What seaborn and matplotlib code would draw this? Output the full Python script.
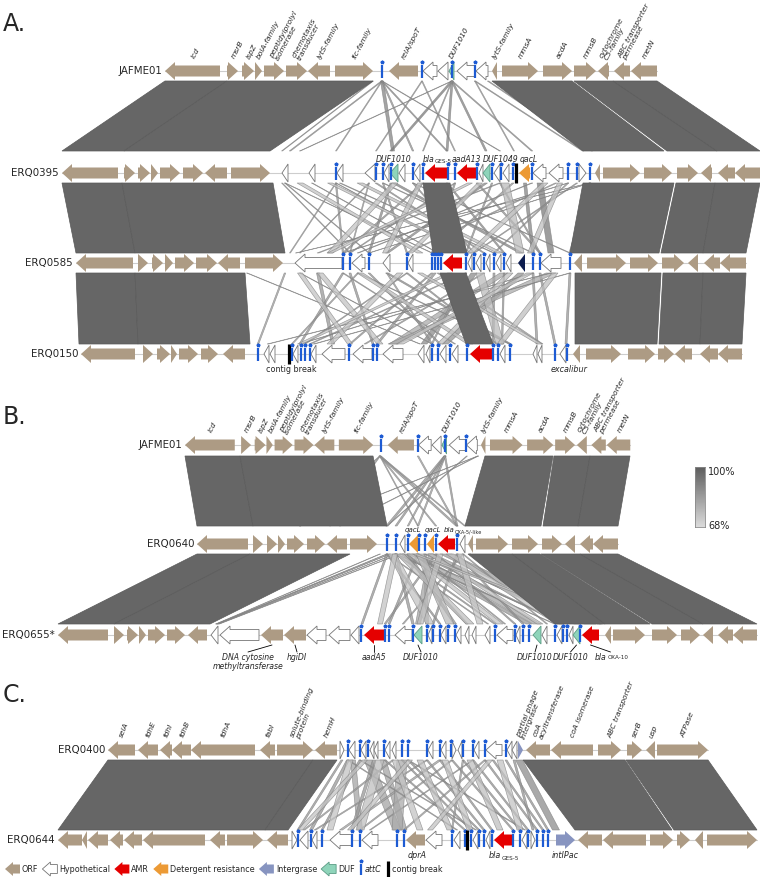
import numpy as np
import matplotlib
matplotlib.use("Agg")
import matplotlib.pyplot as plt
from matplotlib.patches import Polygon
import seaborn as sns

sns.set_theme(style="white")
plt.rcParams['font.family'] = ['DejaVu Sans']

# ----------------------------------------------------------------- data
# genes: (start, end, strand, kind, label) in map units
JAFME01 = [
    (165, 220, -1, 'orf', 'icd'), (227, 238, 1, 'orf', 'msrB'), (242, 254, 1, 'orf', 'ispZ'),
    (255, 262, 1, 'orf', 'bolA-family'), (264, 284, 1, 'orf', 'peptidylprolyl\nisomerase'),
    (286, 307, 1, 'orf', 'chemotaxis\ntransducer'), (308, 330, -1, 'orf', 'lytS-family'),
    (335, 373, 1, 'orf', 'fic-family'), (382, 382, 0, 'attc', ''), (389, 418, -1, 'orf', 'relA/spoT'),
    (422, 422, 0, 'attc', ''), (423, 437, -1, 'hyp', ''), (438, 448, -1, 'hyp', ''),
    (449, 454, -1, 'duf', 'DUF1010'), (452, 452, 0, 'attc', ''), (457, 475, -1, 'hyp', ''),
    (475, 475, 0, 'attc', ''), (476, 488, -1, 'hyp', ''), (492, 497, -1, 'orf', 'lytS-family'),
    (502, 538, 1, 'orf', 'mmsA'), (543, 572, 1, 'orf', 'acdA'), (574, 596, 1, 'orf', 'mmsB'),
    (598, 609, -1, 'orf', 'cytochrome\nC5-family'), (614, 630, -1, 'orf', 'ABC transporter\npermease'),
    (631, 657, -1, 'orf', 'metN'),
]

ERQ0395 = [
    (62, 118, -1, 'orf', ''), (124, 135, 1, 'orf', ''), (138, 150, 1, 'orf', ''), (151, 158, 1, 'orf', ''),
    (160, 180, 1, 'orf', ''), (183, 203, 1, 'orf', ''), (205, 227, -1, 'orf', ''), (231, 270, 1, 'orf', ''),
    (282, 288, -1, 'hyp', ''), (309, 315, -1, 'hyp', ''), (336, 336, 0, 'attc', ''), (337, 343, -1, 'hyp', ''),
    (365, 375, -1, 'hyp', ''), (376, 376, 0, 'attc', ''), (383, 383, 0, 'attc', ''), (384, 389, -1, 'hyp', ''),
    (390, 398, -1, 'duf', 'DUF1010'), (391, 391, 0, 'attc', ''), (399, 405, -1, 'hyp', ''),
    (413, 413, 0, 'attc', ''), (414, 420, -1, 'hyp', ''), (423, 423, 0, 'attc', ''),
    (425, 447, -1, 'amr', 'bla_GES-5'), (448, 448, 0, 'attc', ''), (455, 455, 0, 'attc', ''),
    (457, 476, -1, 'amr', 'aadA13'), (477, 477, 0, 'attc', ''), (479, 483, -1, 'hyp', ''),
    (483, 490, -1, 'duf', 'DUF1049'), (492, 492, 0, 'attc', ''), (494, 500, -1, 'hyp', ''),
    (501, 501, 0, 'attc', ''), (503, 509, -1, 'hyp', ''), (513, 513, 0, 'attc', ''), (516, 516, 0, 'brk', ''),
    (519, 530, -1, 'det', 'qacL'), (532, 532, 0, 'attc', ''), (533, 546, -1, 'hyp', ''),
    (549, 563, -1, 'hyp', ''), (568, 568, 0, 'attc', ''), (577, 577, 0, 'attc', ''), (579, 586, 1, 'hyp', ''),
    (590, 590, 0, 'attc', ''), (595, 600, -1, 'orf', ''), (603, 640, 1, 'orf', ''), (644, 672, 1, 'orf', ''),
    (677, 698, 1, 'orf', ''), (701, 712, -1, 'orf', ''), (718, 735, -1, 'orf', ''), (735, 760, -1, 'orf', ''),
]

ERQ0585 = [
    (76, 133, -1, 'orf', ''), (138, 148, 1, 'orf', ''), (152, 163, 1, 'orf', ''), (165, 173, 1, 'orf', ''),
    (175, 194, 1, 'orf', ''), (196, 217, 1, 'orf', ''), (218, 240, -1, 'orf', ''), (245, 283, 1, 'orf', ''),
    (295, 342, -1, 'hyp', ''), (343, 343, 0, 'attc', ''), (350, 350, 0, 'attc', ''), (352, 365, -1, 'hyp', ''),
    (369, 369, 0, 'attc', ''), (383, 390, -1, 'hyp', ''), (407, 407, 0, 'attc', ''), (408, 413, -1, 'hyp', ''),
    (432, 432, 0, 'attc', ''), (435, 435, 0, 'attc', ''), (438, 438, 0, 'attc', ''), (441, 441, 0, 'attc', ''),
    (443, 462, -1, 'amr', ''), (466, 466, 0, 'attc', ''), (468, 472, -1, 'hyp', ''), (474, 474, 0, 'attc', ''),
    (476, 481, -1, 'hyp', ''), (484, 484, 0, 'attc', ''), (486, 490, -1, 'hyp', ''), (494, 494, 0, 'attc', ''),
    (496, 501, -1, 'hyp', ''), (504, 504, 0, 'attc', ''), (506, 511, -1, 'hyp', ''), (518, 525, -1, 'navy', ''),
    (533, 533, 0, 'attc', ''), (540, 540, 0, 'attc', ''), (541, 561, -1, 'hyp', ''), (570, 570, 0, 'attc', ''),
    (574, 582, -1, 'orf', ''), (587, 626, 1, 'orf', ''), (630, 658, 1, 'orf', ''), (662, 684, 1, 'orf', ''),
    (688, 698, -1, 'orf', ''), (704, 720, -1, 'orf', ''), (720, 746, -1, 'orf', ''),
]

ERQ0150 = [
    (81, 135, -1, 'orf', ''), (143, 153, 1, 'orf', ''), (157, 170, 1, 'orf', ''), (171, 177, 1, 'orf', ''),
    (179, 198, 1, 'orf', ''), (201, 218, 1, 'orf', ''), (223, 245, -1, 'orf', ''),
    (258, 258, 0, 'attc', ''), (264, 269, -1, 'hyp', ''), (270, 275, -1, 'hyp', ''),
    (289, 289, 0, 'brk', 'contig break'), (292, 292, 0, 'attc', ''), (293, 298, -1, 'hyp', ''),
    (301, 301, 0, 'attc', ''), (305, 305, 0, 'attc', ''), (310, 310, 0, 'attc', ''), (311, 316, -1, 'hyp', ''),
    (322, 345, -1, 'hyp', ''), (349, 349, 0, 'attc', ''), (353, 372, -1, 'hyp', ''), (373, 373, 0, 'attc', ''),
    (377, 377, 0, 'attc', ''), (383, 403, -1, 'hyp', ''), (418, 424, -1, 'hyp', ''), (426, 430, -1, 'hyp', ''),
    (432, 432, 0, 'attc', ''), (438, 438, 0, 'attc', ''), (440, 446, -1, 'hyp', ''), (450, 450, 0, 'attc', ''),
    (452, 458, -1, 'hyp', ''), (467, 467, 0, 'attc', ''), (470, 492, -1, 'amr', ''), (493, 493, 0, 'attc', ''),
    (498, 498, 0, 'attc', ''), (500, 505, -1, 'hyp', ''), (510, 510, 0, 'attc', ''), (533, 537, -1, 'hyp', ''),
    (538, 542, -1, 'hyp', ''), (555, 555, 0, 'attc', ''), (560, 566, -1, 'hyp', 'excalibur'),
    (567, 567, 0, 'attc', ''), (573, 580, -1, 'orf', ''), (586, 621, 1, 'orf', ''), (628, 655, 1, 'orf', ''),
    (658, 674, 1, 'orf', ''), (675, 692, -1, 'orf', ''), (700, 718, -1, 'orf', ''), (718, 742, -1, 'orf', ''),
]

ERQ0640 = [
    (197, 248, -1, 'orf', ''), (253, 263, 1, 'orf', ''), (267, 277, 1, 'orf', ''), (278, 285, 1, 'orf', ''),
    (287, 304, 1, 'orf', ''), (307, 325, 1, 'orf', ''), (327, 347, -1, 'orf', ''), (350, 377, 1, 'orf', ''),
    (387, 387, 0, 'attc', ''), (396, 396, 0, 'attc', ''), (400, 405, -1, 'hyp', ''), (408, 408, 0, 'attc', ''),
    (409, 418, -1, 'det', 'qacL'), (419, 419, 0, 'attc', ''), (425, 425, 0, 'attc', ''),
    (427, 434, -1, 'det', 'qacL'), (436, 436, 0, 'attc', ''), (438, 455, -1, 'amr', 'bla_OXA-5/-like'),
    (457, 457, 0, 'attc', ''), (460, 465, -1, 'hyp', ''), (468, 473, -1, 'orf', ''), (476, 508, 1, 'orf', ''),
    (512, 538, 1, 'orf', ''), (542, 562, 1, 'orf', ''), (565, 575, -1, 'orf', ''), (580, 593, -1, 'orf', ''),
    (593, 618, -1, 'orf', ''),
]

ERQ0655 = [
    (58, 108, -1, 'orf', ''), (114, 124, 1, 'orf', ''), (127, 138, 1, 'orf', ''), (139, 146, 1, 'orf', ''),
    (148, 165, 1, 'orf', ''), (167, 185, 1, 'orf', ''), (188, 207, -1, 'orf', ''),
    (211, 218, -1, 'hyp', ''), (220, 259, -1, 'hyp', ''),
    (261, 283, -1, 'orf', 'DNA cytosine\nmethyltransferase'), (284, 306, -1, 'orf', 'hgiDI'),
    (307, 326, -1, 'hyp', ''), (329, 350, -1, 'hyp', ''), (351, 359, -1, 'hyp', ''), (361, 361, 0, 'attc', ''),
    (364, 384, -1, 'amr', 'aadA5'), (385, 385, 0, 'attc', ''), (389, 389, 0, 'attc', ''),
    (395, 412, -1, 'hyp', ''), (413, 413, 0, 'attc', ''), (414, 422, -1, 'duf', 'DUF1010'),
    (427, 427, 0, 'attc', ''), (428, 432, -1, 'hyp', ''), (433, 433, 0, 'attc', ''), (440, 440, 0, 'attc', ''),
    (441, 446, -1, 'hyp', ''), (448, 448, 0, 'attc', ''), (455, 455, 0, 'attc', ''), (456, 461, -1, 'hyp', ''),
    (465, 469, -1, 'hyp', ''), (472, 476, -1, 'hyp', ''), (485, 490, -1, 'hyp', ''), (495, 495, 0, 'attc', ''),
    (497, 513, -1, 'hyp', ''), (515, 515, 0, 'attc', ''), (516, 520, -1, 'hyp', ''), (523, 523, 0, 'attc', ''),
    (529, 529, 0, 'attc', ''), (533, 541, -1, 'duf', 'DUF1010'), (542, 547, -1, 'hyp', ''),
    (555, 555, 0, 'attc', ''), (557, 562, -1, 'hyp', ''), (563, 563, 0, 'attc', ''), (567, 567, 0, 'attc', ''),
    (569, 573, -1, 'hyp', ''), (573, 580, -1, 'duf', 'DUF1010'), (580, 580, 0, 'attc', ''),
    (582, 599, -1, 'amr', 'bla_OXA-10'), (605, 611, -1, 'orf', ''), (613, 645, 1, 'orf', ''),
    (652, 677, 1, 'orf', ''), (681, 700, 1, 'orf', ''), (703, 713, -1, 'orf', ''), (718, 733, -1, 'orf', ''),
    (733, 757, -1, 'orf', ''),
]

ERQ0400 = [
    (108, 135, -1, 'orf', 'selA'), (138, 158, -1, 'orf', 'fdhE'), (160, 172, -1, 'orf', 'fdhI'),
    (172, 191, -1, 'orf', 'fdhB'), (191, 255, -1, 'orf', 'fdhA'), (260, 275, -1, 'orf', 'fabI'),
    (277, 313, 1, 'orf', 'solute-binding\nprotein'), (315, 337, -1, 'orf', 'hemH'),
    (340, 344, 1, 'hyp', ''), (348, 348, 0, 'attc', ''), (349, 355, -1, 'hyp', ''), (360, 360, 0, 'attc', ''),
    (361, 366, -1, 'hyp', ''), (368, 368, 0, 'attc', ''), (370, 374, -1, 'hyp', ''), (374, 378, -1, 'hyp', ''),
    (384, 384, 0, 'attc', ''), (385, 390, -1, 'hyp', ''), (392, 396, -1, 'hyp', ''), (402, 402, 0, 'attc', ''),
    (408, 408, 0, 'attc', ''), (427, 427, 0, 'attc', ''), (428, 433, -1, 'hyp', ''), (440, 440, 0, 'attc', ''),
    (441, 446, -1, 'hyp', ''), (451, 451, 0, 'attc', ''), (452, 456, 1, 'hyp', ''), (458, 462, -1, 'hyp', ''),
    (463, 463, 0, 'attc', ''), (473, 473, 0, 'attc', ''), (474, 479, -1, 'hyp', ''), (485, 485, 0, 'attc', ''),
    (486, 502, -1, 'hyp', ''), (506, 506, 0, 'attc', ''), (507, 512, -1, 'hyp', ''), (512, 517, -1, 'hyp', ''),
    (518, 523, 1, 'int', 'partial phage\nintergrase'), (526, 550, -1, 'orf', 'coA\nacyltransferase'),
    (551, 593, -1, 'orf', 'coA isomerase'), (598, 621, 1, 'orf', 'ABC transporter'),
    (627, 642, 1, 'orf', 'serB'), (646, 655, -1, 'orf', 'usp'), (657, 708, 1, 'orf', 'ATPase'),
]

ERQ0644 = [
    (58, 82, -1, 'orf', ''), (82, 87, -1, 'orf', ''), (88, 108, -1, 'orf', ''), (110, 123, -1, 'orf', ''),
    (124, 142, -1, 'orf', ''), (143, 205, -1, 'orf', ''), (210, 225, -1, 'orf', ''), (227, 263, 1, 'orf', ''),
    (267, 288, -1, 'orf', ''), (292, 297, 1, 'hyp', ''), (298, 298, 0, 'attc', ''), (300, 308, -1, 'hyp', ''),
    (311, 311, 0, 'attc', ''), (312, 317, -1, 'hyp', ''), (322, 322, 0, 'attc', ''), (330, 352, -1, 'hyp', ''),
    (352, 352, 0, 'attc', ''), (360, 360, 0, 'attc', ''), (362, 378, -1, 'hyp', ''), (397, 397, 0, 'attc', ''),
    (404, 404, 0, 'attc', ''), (406, 425, -1, 'orf', 'dprA'), (426, 442, -1, 'hyp', ''),
    (452, 452, 0, 'attc', ''), (454, 460, -1, 'hyp', ''), (465, 465, 0, 'attc', ''), (467, 467, 0, 'brk', ''),
    (471, 471, 0, 'attc', ''), (473, 478, -1, 'hyp', ''), (479, 479, 0, 'attc', ''), (484, 484, 0, 'attc', ''),
    (486, 490, -1, 'hyp', ''), (492, 492, 0, 'attc', ''), (494, 512, -1, 'amr', 'bla_GES-5'),
    (513, 513, 0, 'attc', ''), (520, 520, 0, 'attc', ''), (522, 527, -1, 'hyp', ''), (528, 528, 0, 'attc', ''),
    (531, 535, 1, 'hyp', ''), (537, 537, 0, 'attc', ''), (543, 543, 0, 'attc', ''), (548, 548, 0, 'attc', ''),
    (556, 575, 1, 'int', 'intIPac'), (578, 602, -1, 'orf', ''), (603, 646, -1, 'orf', ''),
    (650, 673, 1, 'orf', ''), (677, 690, 1, 'orf', ''), (695, 703, -1, 'orf', ''), (707, 757, 1, 'orf', ''),
]

# syntenic blocks (~100 % identity): (top_start, top_end, bottom_start, bottom_end)
BLOCKS_A1 = [(165, 227, 62, 124), (227, 373, 124, 270), (492, 572, 583, 664), (574, 613, 667, 717), (613, 657, 717, 760)]
BLOCKS_A2 = [(62, 122, 76, 135), (122, 273, 135, 285), (423, 450, 433, 467),
             (583, 674, 570, 659), (676, 715, 661, 703), (715, 760, 703, 746)]
BLOCKS_A3 = [(76, 135, 79, 138), (135, 245, 138, 250), (440, 466, 466, 493),
             (575, 661, 575, 657), (663, 703, 659, 700), (703, 746, 700, 742)]
BLOCKS_B1 = [(185, 240, 197, 253), (240, 373, 253, 387), (485, 553, 465, 541), (554, 590, 543, 578), (590, 630, 578, 618)]
BLOCKS_B2 = [(197, 250, 58, 114), (250, 350, 114, 210), (468, 512, 555, 605), (512, 540, 605, 650),
             (541, 580, 652, 703), (580, 618, 703, 757)]
BLOCKS_C = [(108, 313, 58, 265), (313, 337, 265, 288), (523, 625, 575, 672), (626, 708, 674, 757)]

# shorter BLAST hits: (top_pos, bottom_pos, width, identity %)
LINKS_A1 = [(382, 290, 1.5, 85), (382, 336, 1, 80), (382, 393, 3, 90), (382, 413, 1.5, 85), (382, 447, 1.5, 88),
            (382, 500, 1, 80), (422, 376, 1, 80), (422, 455, 1, 80), (452, 300, 1, 78), (452, 391, 2.5, 92),
            (452, 447, 2, 90), (452, 486, 2, 90), (452, 532, 1.5, 85), (452, 423, 1, 82), (475, 583, 1.5, 85),
            (488, 592, 1.5, 85), (475, 514, 1, 80), (373, 282, 1, 80)]
LINKS_A2 = [(285, 369, 1, 80), (285, 432, 1, 78), (312, 438, 1, 80), (336, 343, 1.5, 85), (336, 466, 1, 80),
            (340, 494, 1.5, 82), (369, 350, 1, 80), (376, 484, 2, 85), (383, 407, 1.5, 85), (391, 369, 2, 88),
            (394, 521, 4, 90), (413, 474, 1.5, 85), (423, 343, 2, 85), (447, 504, 2, 88), (455, 432, 1.5, 85),
            (455, 350, 1.5, 82), (477, 540, 2, 85), (486, 387, 3, 88), (492, 466, 1.5, 85), (500, 318, 2, 80),
            (513, 435, 2, 82), (525, 533, 3, 90), (532, 358, 1.5, 80), (540, 551, 6, 92), (556, 407, 2, 80),
            (568, 343, 1.5, 80), (577, 474, 1.5, 82), (590, 570, 2, 85), (590, 296, 1, 78), (590, 369, 1, 78),
            (568, 494, 1.5, 82), (500, 540, 1.5, 85), (413, 570, 1.5, 80), (383, 533, 1.5, 80), (369, 300, 1, 80),
            (336, 290, 1, 78), (282, 350, 1, 80),
            (300, 420, 6, 74), (330, 470, 5, 74), (360, 500, 6, 75), (395, 330, 6, 74), (420, 385, 5, 75),
            (470, 330, 5, 74), (505, 520, 8, 76), (545, 470, 6, 74), (560, 530, 5, 75), (480, 410, 5, 74)]
LINKS_A3 = [(285, 258, 1.5, 82), (247, 420, 1, 78), (300, 432, 1, 78), (318, 333, 3, 85), (343, 300, 2, 85),
            (343, 455, 1.5, 82), (350, 373, 2, 85), (358, 292, 1.5, 82), (369, 440, 2, 85), (387, 510, 3, 88),
            (407, 305, 1.5, 82), (407, 497, 2, 85), (432, 350, 2, 85), (435, 377, 2.5, 85), (438, 542, 2, 82),
            (466, 310, 2, 82), (474, 424, 6, 88), (484, 365, 2, 82), (494, 493, 2, 85), (504, 393, 8, 80),
            (521, 445, 6, 86), (533, 537, 2, 85), (540, 555, 2, 85), (551, 393, 10, 80), (570, 566, 2, 85),
            (570, 314, 1.5, 80), (551, 268, 1.5, 78), (533, 300, 1.5, 78), (504, 502, 1.5, 85), (466, 432, 1.5, 82),
            (387, 432, 1.5, 82), (358, 510, 1.5, 80),
            (320, 380, 6, 74), (360, 470, 6, 75), (400, 330, 6, 74), (450, 300, 5, 74), (480, 500, 8, 76),
            (510, 440, 6, 75), (530, 400, 7, 74), (555, 500, 6, 75), (300, 350, 5, 74), (420, 540, 5, 74)]
LINKS_B1 = [(380, 457, 2.5, 85), (380, 465, 1.5, 82), (380, 436, 1.5, 82), (380, 418, 1, 80), (418, 457, 1.5, 82),
            (445, 387, 2.5, 85), (445, 396, 2, 85), (445, 418, 1.5, 82), (445, 457, 1.5, 85), (445, 408, 1.5, 82),
            (467, 387, 1, 80), (478, 340, 1, 78), (478, 300, 1, 78), (380, 300, 1, 78), (380, 330, 1, 78)]
LINKS_B2 = [(380, 216, 1, 78), (387, 217, 1, 78), (390, 217, 1, 78), (395, 218, 1, 78), (400, 219, 1, 78),
            (387, 362, 2, 85), (387, 440, 2, 85), (396, 495, 2, 85), (396, 413, 2.5, 85), (403, 529, 6, 85),
            (408, 455, 3, 85), (413, 537, 8, 82), (418, 389, 2, 85), (418, 563, 3, 85), (425, 427, 3, 85),
            (425, 580, 2, 85), (431, 577, 6, 82), (431, 418, 5, 82), (436, 515, 2, 85), (436, 385, 2, 85),
            (446, 590, 12, 84), (457, 523, 2, 85), (457, 433, 2, 85), (463, 547, 1.5, 82), (463, 403, 1.5, 82),
            (408, 567, 1.5, 82), (403, 467, 2, 82), (418, 505, 1.5, 82), (396, 555, 1.5, 82), (387, 488, 1.5, 82),
            (470, 560, 1, 80), (470, 600, 1, 80),
            (392, 430, 8, 74), (400, 470, 8, 75), (410, 500, 6, 74), (420, 450, 8, 76), (430, 540, 6, 74),
            (440, 420, 6, 75), (450, 560, 8, 74), (460, 480, 6, 74), (415, 600, 5, 74), (395, 380, 5, 74)]
LINKS_C = [(342, 298, 2, 85), (348, 311, 3, 85), (353, 360, 5, 82), (360, 322, 2, 85), (368, 397, 8, 82),
           (374, 352, 3, 85), (383, 404, 6, 82), (385, 465, 2, 85), (393, 304, 2, 82), (402, 471, 2, 85),
           (408, 479, 2, 85), (427, 315, 2, 82), (427, 484, 2, 85), (440, 492, 2, 85), (452, 513, 2, 85),
           (463, 520, 2, 85), (473, 528, 2, 85), (485, 537, 2, 85), (493, 543, 2, 85), (506, 548, 2, 85),
           (514, 533, 2, 85), (440, 341, 3, 82), (452, 360, 2, 82), (463, 452, 1.5, 82), (473, 370, 1.5, 82),
           (485, 404, 2, 82), (402, 397, 10, 80), (360, 476, 1.5, 82), (348, 457, 1.5, 82), (408, 525, 1.5, 82),
           (519, 556, 7, 88),
           (350, 330, 6, 74), (365, 300, 5, 74), (380, 360, 8, 75), (395, 420, 6, 74), (410, 350, 5, 74),
           (420, 450, 6, 75), (445, 470, 6, 74), (470, 500, 6, 75), (490, 430, 5, 74), (500, 520, 6, 74)]

IDENTITY_RANGE = [68, 100]
COLORBAR_LABELS = ['100%', '68%']
LEGEND = [('orf', 'ORF'), ('hyp', 'Hypothetical'), ('amr', 'AMR'), ('det', 'Detergent resistance'),
          ('int', 'Intergrase'), ('duf', 'DUF'), ('attc', 'attC'), ('brk', 'contig break')]

# ----------------------------------------------------------------- style / layout
COLORS = {'orf': ('#ad9b84', 'none'), 'hyp': ('white', '#757575'), 'amr': ('#e50000', 'none'),
          'det': ('#ec9a35', 'none'), 'int': ('#8794c0', 'none'), 'duf': ('#8fd4ba', '#5b9c85'),
          'navy': ('#0d1d4f', 'none')}
ATTC = '#1d5bd3'
BLOCK = '#666666'
CMAP = sns.blend_palette(['#dadada', '#5e5e5e'], as_cmap=True)
# label nudges (track, gene start) -> horizontal shift of the text
NUDGE = {('ERQ0395', 483): 14, ('ERQ0395', 519): 4, ('ERQ0640', 409): -1, ('ERQ0640', 427): 2,
         ('ERQ0640', 438): 19, ('ERQ0655*', 261): -24, ('ERQ0655*', 284): 2, ('ERQ0655*', 414): 3,
         ('ERQ0655*', 533): -2, ('ERQ0655*', 573): -6, ('ERQ0655*', 582): 20,
         ('ERQ0150', 289): 2, ('ERQ0150', 560): 6, ('ERQ0644', 406): 2}
ABOVE_SIZE = {'ERQ0395': 5.6, 'ERQ0585': 5.6, 'ERQ0640': 5.0}
PXPT = 100 / 72.0

fig = plt.figure(figsize=(7.6, 8.77), dpi=100)
ax = fig.add_axes([0, 0, 1, 1])
ax.set_xlim(0, 760)
ax.set_ylim(877, 0)
ax.axis('off')


def arrow_pts(x0, x1, y, strand, hh=9.0, bh=5.5, hl=10.0):
    h = min(hl, x1 - x0)
    if strand >= 0:
        return [(x0, y - bh), (x1 - h, y - bh), (x1 - h, y - hh), (x1, y), (x1 - h, y + hh), (x1 - h, y + bh), (x0, y + bh)]
    return [(x1, y - bh), (x0 + h, y - bh), (x0 + h, y - hh), (x0, y), (x0 + h, y + hh), (x0 + h, y + bh), (x1, y + bh)]


def draw_attc(x, y, h=6.5):
    ax.plot([x, x], [y - h, y + h], color=ATTC, lw=1.6, zorder=5, solid_capstyle='butt')
    ax.plot([x], [y - h - 2.5], marker='*', ms=2.6, color=ATTC, mec=ATTC, zorder=5)


def bla_text(x, y, sub, size, va='center'):
    w_main = 3 * 0.55 * size * PXPT
    subsize = size * 0.72
    w_sub = len(sub) * 0.6 * subsize * PXPT
    split = x - (w_main + w_sub) / 2 + w_main
    ax.text(split, y, 'bla', fontsize=size, style='italic', ha='right', va=va, zorder=6)
    ax.text(split + 0.5, y + 0.3 * size * PXPT, sub, fontsize=subsize, ha='left', va=va, zorder=6)


def draw_track(name, genes, y, mode, xmap=lambda v: v):
    xs = [xmap(g[0]) for g in genes] + [xmap(g[1]) for g in genes]
    ax.plot([min(xs), max(xs)], [y, y], color='#cdcdcd', lw=0.8, zorder=3)
    ax.text(min(xs) - 3, y, name, ha='right', va='center', fontsize=7.4, zorder=6)
    for s0, e0, strand, kind, lab in genes:
        s, e = xmap(s0), xmap(e0)
        if kind == 'attc':
            draw_attc(s, y)
        elif kind == 'brk':
            ax.plot([s, s], [y - 10, y + 10], color='black', lw=2.3, zorder=5, solid_capstyle='butt')
        else:
            fc, ec = COLORS[kind]
            ax.add_patch(Polygon(arrow_pts(s, e, y, strand), closed=True, fc=fc, ec=ec, lw=0.6, zorder=4))
        if not lab:
            continue
        cx = (s + e) / 2 + NUDGE.get((name, s0), 0)
        if mode in ('rot62', 'rot68'):
            ax.text(cx, y - 12.5, lab, rotation=62 if mode == 'rot62' else 68, rotation_mode='anchor',
                    ha='left', va='center', fontsize=5.4, style='italic', linespacing=0.95, zorder=6)
        elif mode == 'above':
            size = ABOVE_SIZE.get(name, 5.6)
            if lab.startswith('bla_'):
                bla_text(cx, y - 14, lab[4:], size)
            else:
                ax.text(cx, y - 14, lab, ha='center', va='center', fontsize=size, style='italic', zorder=6)
        elif mode == 'below_ptr':
            ax.plot([(s + e) / 2, cx], [y + 10, y + 17], color='black', lw=0.6, zorder=6)
            if lab.startswith('bla_'):
                bla_text(cx, y + 18, lab[4:], 5.6, va='top')
            else:
                ax.text(cx, y + 18, lab, ha='center', va='top', fontsize=5.6, style='italic',
                        linespacing=1.0, zorder=6)
        else:  # below
            style = 'normal' if kind == 'brk' else 'italic'
            if lab.startswith('bla_'):
                bla_text(cx, y + 16, lab[4:], 5.8)
            else:
                ax.text(cx, y + 16, lab, ha='center', va='center', fontsize=5.8, style=style, zorder=6)


def draw_gap(blocks, links, yt, yb):
    for t, b, w, ident in links:
        c = CMAP((ident - IDENTITY_RANGE[0]) / (IDENTITY_RANGE[1] - IDENTITY_RANGE[0]))
        ax.add_patch(Polygon([(t - w / 2, yt), (t + w / 2, yt), (b + w / 2, yb), (b - w / 2, yb)], closed=True,
                             fc=c, ec='#808080', lw=0.45, alpha=0.75, zorder=1))
    for ts, te, bs, be in blocks:
        ax.add_patch(Polygon([(ts, yt), (te, yt), (be, yb), (bs, yb)], closed=True,
                             fc=BLOCK, ec='#5a5a5a', lw=0.5, zorder=2))


# ----- panel A
ax.text(3, 24, 'A.', fontsize=17, ha='left', va='center')
draw_gap(BLOCKS_A1, LINKS_A1, 81, 151)
draw_gap(BLOCKS_A2, LINKS_A2, 183, 253)
draw_gap(BLOCKS_A3, LINKS_A3, 273, 344)
draw_track('JAFME01', JAFME01, 71, 'rot62')
draw_track('ERQ0395', ERQ0395, 173, 'above')
draw_track('ERQ0585', ERQ0585, 263, 'above')
draw_track('ERQ0150', ERQ0150, 354, 'below')

# ----- panel B
ax.text(3, 417, 'B.', fontsize=17, ha='left', va='center')
draw_gap(BLOCKS_B1, LINKS_B1, 456, 526)
draw_gap(BLOCKS_B2, LINKS_B2, 554, 624)
draw_track('JAFME01', JAFME01, 445, 'rot62', xmap=lambda v: 185 + (v - 165) * 0.905)
draw_track('ERQ0640', ERQ0640, 544, 'above')
draw_track('ERQ0655*', ERQ0655, 635, 'below_ptr')

# ----- panel C
ax.text(3, 695, 'C.', fontsize=17, ha='left', va='center')
draw_gap(BLOCKS_C, LINKS_C, 760, 830)
draw_track('ERQ0400', ERQ0400, 750, 'rot68')
draw_track('ERQ0644', ERQ0644, 840, 'below')

# ----- identity colour bar
cax = fig.add_axes([695 / 760, 1 - 527 / 877, 10 / 760, 60 / 877])
grad = np.linspace(IDENTITY_RANGE[1], IDENTITY_RANGE[0], 60)[:, None]
sns.heatmap(grad, cmap=CMAP, vmin=IDENTITY_RANGE[0], vmax=IDENTITY_RANGE[1], cbar=False,
            xticklabels=False, yticklabels=False, ax=cax)
for sp in cax.spines.values():
    sp.set_visible(True)
    sp.set_color('#8a8a8a')
    sp.set_linewidth(0.6)
ax.text(708, 472, COLORBAR_LABELS[0], fontsize=7, ha='left', va='center')
ax.text(708, 526, COLORBAR_LABELS[1], fontsize=7, ha='left', va='center')

# ----- legend
renderer = fig.canvas.get_renderer()
ly = 869
x = 5
for kind, lab in LEGEND:
    if kind == 'attc':
        draw_attc(x + 2, ly, h=5.5)
        x += 5
    elif kind == 'brk':
        ax.plot([x + 2, x + 2], [ly - 8, ly + 8], color='black', lw=2.3, solid_capstyle='butt')
        x += 5
    else:
        fc, ec = COLORS[kind]
        ax.add_patch(Polygon(arrow_pts(x, x + 15, ly, -1, hh=7, bh=4.5, hl=8), closed=True, fc=fc,
                             ec=ec, lw=0.6, zorder=4))
        x += 16
    t = ax.text(x + 1, ly, lab, fontsize=5.8, ha='left', va='center',
                style='italic' if kind == 'attc' else 'normal')
    bb = t.get_window_extent(renderer=renderer)
    x = bb.x1 + 4

fig.savefig('out.png', dpi=100)
